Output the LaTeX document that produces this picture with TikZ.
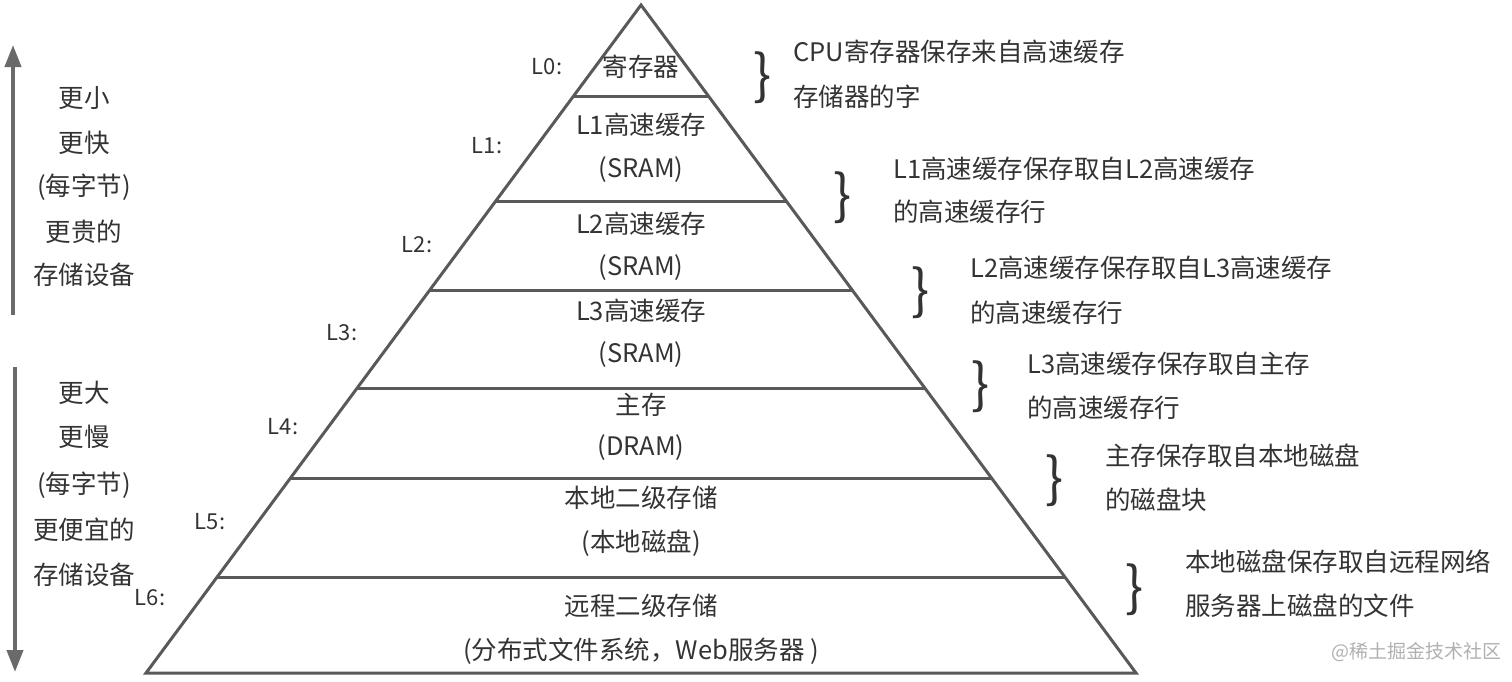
\documentclass[tikz,border=0pt]{standalone}
\usepackage{fontspec}
\setmainfont{Noto Sans CJK SC}
\usetikzlibrary{calc,arrows.meta}
\definecolor{ln}{HTML}{595959}
\definecolor{tx}{HTML}{333333}
\definecolor{wm}{HTML}{B0B0B0}
\begin{document}
\begin{tikzpicture}[x=1pt,y=-1pt,
  txt/.style={text=tx,font=\fontsize{25.5}{28}\selectfont,inner sep=0pt},
  rtxt/.style={txt,anchor=west},
  lvl/.style={txt,font=\fontsize{22}{25}\selectfont},
  brc/.style={text=tx,font=\fontsize{54}{58}\selectfont,inner sep=0pt},
  pline/.style={draw=ln,line width=3pt,line join=miter},
  varrow/.style={draw=ln!90,line width=4pt,-{Triangle[length=22pt,width=16pt]}}]
\useasboundingbox (0,0) rectangle (1512,681);
\coordinate (apex) at (641,5);
\coordinate (bl) at (146,673);
\coordinate (br) at (1136,673);
% horizontal separators
\foreach \y/\n in {97/a,201/b,291/c,388/d,478/e,577/f}{
  \coordinate (l\n) at ($(apex)!{(\y-5)/668}!(bl)$);
  \coordinate (r\n) at ($(apex)!{(\y-5)/668}!(br)$);
  \draw[pline] (l\n) -- (r\n);
}
\draw[pline] (apex) -- (bl) -- (br) -- cycle;
% layer texts
\node[txt] (t0) at (641,67) {寄存器};
\node[txt] (t1a) at (641,125) {L1高速缓存};
\node[txt] (t1b) at (641,170) {(SRAM)};
\node[txt] (t2a) at (641,224) {L2高速缓存};
\node[txt] (t2b) at (641,268) {(SRAM)};
\node[txt] (t3a) at (641,311) {L3高速缓存};
\node[txt] (t3b) at (641,355) {(SRAM)};
\node[txt] (t4a) at (641,405) {主存};
\node[txt] (t4b) at (641,448) {(DRAM)};
\node[txt] (t5a) at (641,498) {本地二级存储};
\node[txt] (t5b) at (641,543) {(本地磁盘)};
\node[txt] (t6a) at (641,606) {远程二级存储};
\node[txt] (t6b) at (641,651) {(分布式文件系统，Web服务器 )};
% level labels
\node[lvl] (L0) at (547,67) {L0:};
\node[lvl] (L1) at (487,146) {L1:};
\node[lvl] (L2) at (417,245) {L2:};
\node[lvl] (L3) at (342,333) {L3:};
\node[lvl] (L4) at (283,427) {L4:};
\node[lvl] (L5) at (210,522) {L5:};
\node[lvl] (L6) at (150,598) {L6:};
% braces
\node[brc] (b0) at (763,78) {\}};
\node[brc] (b1) at (843,198) {\}};
\node[brc] (b2) at (921,293) {\}};
\node[brc] (b3) at (981,387) {\}};
\node[brc] (b4) at (1055,481) {\}};
\node[brc] (b5) at (1135,590) {\}};
% right descriptions
\node[rtxt] (d0a) at (793,52) {CPU寄存器保存来自高速缓存};
\node[rtxt] (d0b) at (793,97) {存储器的字};
\node[rtxt] (d1a) at (893,169) {L1高速缓存保存取自L2高速缓存};
\node[rtxt] (d1b) at (893,212) {的高速缓存行};
\node[rtxt] (d2a) at (970,268) {L2高速缓存保存取自L3高速缓存};
\node[rtxt] (d2b) at (970,313) {的高速缓存行};
\node[rtxt] (d3a) at (1027,364) {L3高速缓存保存取自主存};
\node[rtxt] (d3b) at (1027,408) {的高速缓存行};
\node[rtxt] (d4a) at (1105,456) {主存保存取自本地磁盘};
\node[rtxt] (d4b) at (1105,500) {的磁盘块};
\node[rtxt] (d5a) at (1185,562) {本地磁盘保存取自远程网络};
\node[rtxt] (d5b) at (1185,606) {服务器上磁盘的文件};
% left side
\coordinate (upb) at (13,315);
\coordinate (upt) at (13,45);
\coordinate (dnt) at (15,367);
\coordinate (dnb) at (15,672);
\draw[varrow] (upb) -- (upt);
\draw[varrow] (dnt) -- (dnb);
\node[txt] (u1) at (84,98) {更小};
\node[txt] (u2) at (84,143) {更快};
\node[txt] (u3) at (84,187) {(每字节)};
\node[txt] (u4) at (84,232) {更贵的};
\node[txt] (u5) at (84,275) {存储设备};
\node[txt] (w1) at (84,393) {更大};
\node[txt] (w2) at (84,437) {更慢};
\node[txt] (w3) at (84,485) {(每字节)};
\node[txt] (w4) at (84,530) {更便宜的};
\node[txt] (w5) at (84,575) {存储设备};
% watermark
\node[text=wm,font=\fontsize{19}{21}\selectfont,inner sep=0pt,anchor=west] (wm) at (1331,652) {@稀土掘金技术社区};
\end{tikzpicture}
\end{document}
